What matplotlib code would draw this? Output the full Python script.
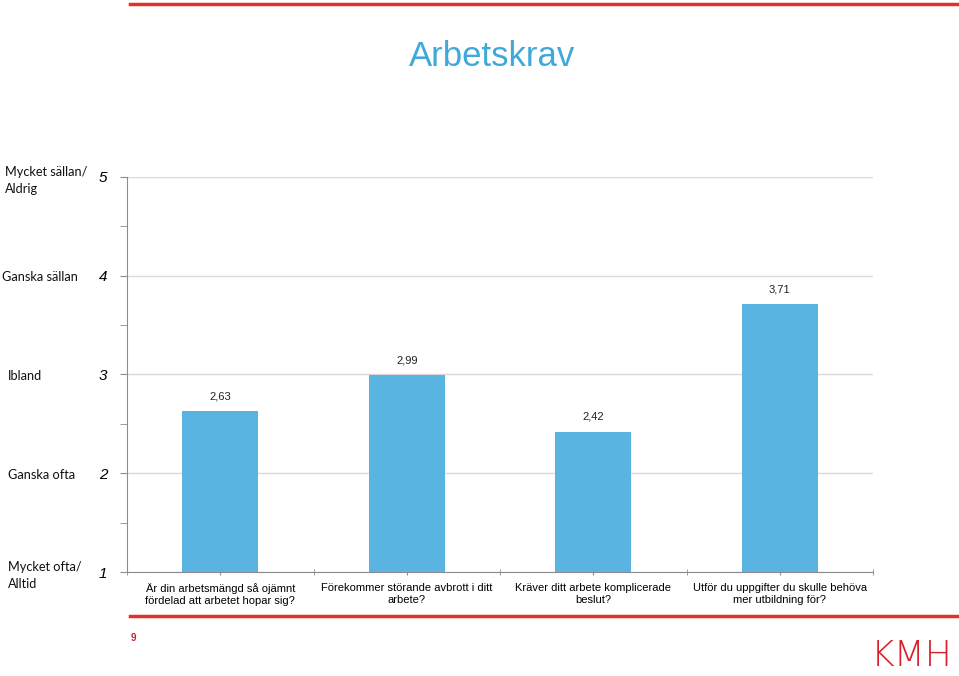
import matplotlib.pyplot as plt
import numpy as np

# data
questions = [
    "Är din arbetsmängd så ojämnt\nfördelad att arbetet hopar sig?",
    "Förekommer störande avbrott i ditt\narbete?",
    "Kräver ditt arbete komplicerade\nbeslut?",
    "Utför du uppgifter du skulle behöva\nmer utbildning för?",
]
values = [2.63, 2.99, 2.42, 3.71]
scale_labels = ["Mycket ofta/\nAlltid", "Ganska ofta", "Ibland", "Ganska sällan", "Mycket sällan/\nAldrig"]
scale_ticks = [1, 2, 3, 4, 5]

bar_color = '#5AB4E1'
red = '#E0322B'
grey = '#8C8C8C'

fig = plt.figure(figsize=(9.59, 6.76), dpi=100)
ax = fig.add_axes([127/959, 1-572/676, (873-127)/959, (572-177)/676])

x = np.arange(len(values))
ax.bar(x, np.array(values) - 1, bottom=1, width=0.41, color=bar_color, zorder=3)
for xi, v in zip(x, values):
    ax.text(xi, v + 0.1, f"{v:.2f}".replace('.', ','), ha='center', va='bottom',
            fontsize=8, family='Liberation Sans', color='#222222')

ax.set_xlim(-0.5, len(values) - 0.5)
ax.set_ylim(1, 5)

# y axis
ax.set_yticks(scale_ticks)
ax.set_yticklabels([str(t) for t in scale_ticks], fontsize=11, style='italic',
                   family='Liberation Sans')
ax.set_yticks(np.arange(1.5, 5, 1), minor=True)
ax.tick_params(axis='y', which='both', length=5, color=grey, pad=9)
ax.grid(axis='y', which='major', color='#D9D9D9', linewidth=1, zorder=0)

# x axis
ax.set_xticks(x)
ax.set_xticklabels(questions, fontsize=8, family='Liberation Sans')
ax.set_xticks(np.arange(-0.5, len(values), 1), minor=True)
ax.tick_params(axis='x', which='both', length=4, color=grey, direction='inout', pad=6)

for s in ['top', 'right']:
    ax.spines[s].set_visible(False)
for s in ['left', 'bottom']:
    ax.spines[s].set_color(grey)

# scale descriptions on the left
label_x = [8, 8, 8, 2, 5]
for t, lab, lx in zip(scale_ticks, scale_labels, label_x):
    y = 1 - (572 - (t - 1) * (572 - 177) / 4) / 676
    y -= (5 if '\n' in lab else 3) / 676
    fig.text(lx/959, y + 0.002, lab, ha='left', va='center', fontsize=9.2,
             family='Lato', color='#111111', linespacing=1.5)

# title
fig.text(492/959, 1 - 57/676, "Arbetskrav", ha='center', va='center', fontsize=25,
         color='#3FA9DA', family='Liberation Sans')

# red lines, page number and logo
fig.add_artist(plt.Line2D([130/959, 1], [1 - 4/676, 1 - 4/676], color=red, linewidth=2.5))
fig.add_artist(plt.Line2D([130/959, 1], [1 - 616/676, 1 - 616/676], color=red, linewidth=2.5))
fig.text(133/959, 1 - 638/676, "9", ha='center', va='center', fontsize=7,
         color='#C0272D', fontweight='bold', family='Liberation Sans')
fig.text(912/959, 1 - 656/676, "KMH", ha='center', va='center', fontsize=26,
         color='#D7202A', family='DejaVu Sans', fontweight='light')

plt.savefig('out.png')
plt.close()
